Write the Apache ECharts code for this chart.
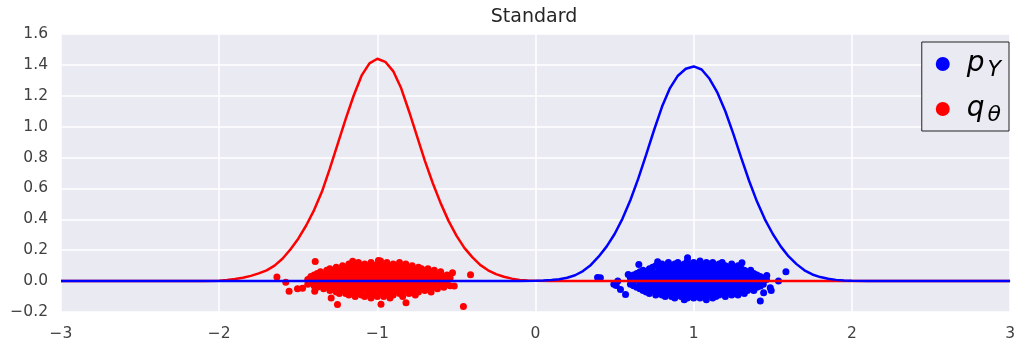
<!DOCTYPE html>
<html><head><meta charset="utf-8">
<script src="https://cdn.jsdelivr.net/npm/echarts@6/dist/echarts.min.js"></script>
<style>html,body{margin:0;padding:0;background:#fff}#c{width:1018px;height:345px}</style>
</head><body><div id="c"></div>
<script>
const titleText = 'Standard';
const legendNames = ['p_Y', 'q_θ'];
const xTicks = [-3, -2, -1, 0, 1, 2, 3];
const yTicks = [-0.2, 0, 0.2, 0.4, 0.6, 0.8, 1.0, 1.2, 1.4, 1.6];

// density curve of q_theta (red)
const redCurveX = [-3, -2.5, -2.1, -2.0, -1.95, -1.9, -1.85, -1.8, -1.75, -1.7, -1.65, -1.6, -1.55, -1.5, -1.45, -1.4, -1.35, -1.3, -1.25, -1.2, -1.15, -1.1, -1.05, -1.0, -0.95, -0.9, -0.85, -0.8, -0.75, -0.7, -0.65, -0.6, -0.55, -0.5, -0.45, -0.4, -0.35, -0.3, -0.25, -0.2, -0.15, -0.1, -0.05, 0, 0.1, 0.5, 1, 1.5, 2, 2.5, 3];
const redCurveY = [0, 0, 0.001, 0.003, 0.007, 0.013, 0.022, 0.034, 0.05, 0.07, 0.10, 0.145, 0.205, 0.275, 0.36, 0.46, 0.58, 0.73, 0.89, 1.05, 1.20, 1.33, 1.41, 1.44, 1.42, 1.36, 1.25, 1.10, 0.94, 0.78, 0.635, 0.505, 0.39, 0.295, 0.215, 0.155, 0.105, 0.07, 0.045, 0.028, 0.016, 0.008, 0.004, 0.002, 0, 0, 0, 0, 0, 0, 0];

// density curve of p_Y (blue)
const blueCurveX = [-3, -2.5, -2, -1.5, -1, -0.5, -0.1, 0, 0.05, 0.1, 0.15, 0.2, 0.25, 0.3, 0.35, 0.4, 0.45, 0.5, 0.55, 0.6, 0.65, 0.7, 0.75, 0.8, 0.85, 0.9, 0.95, 1.0, 1.05, 1.1, 1.15, 1.2, 1.25, 1.3, 1.35, 1.4, 1.45, 1.5, 1.55, 1.6, 1.65, 1.7, 1.75, 1.8, 1.85, 1.9, 1.95, 2.0, 2.1, 2.5, 3];
const blueCurveY = [0, 0, 0, 0, 0, 0, 0, 0.002, 0.004, 0.007, 0.012, 0.022, 0.038, 0.065, 0.105, 0.16, 0.225, 0.305, 0.405, 0.525, 0.665, 0.82, 0.98, 1.13, 1.25, 1.33, 1.375, 1.39, 1.37, 1.31, 1.22, 1.10, 0.955, 0.80, 0.65, 0.515, 0.40, 0.305, 0.225, 0.16, 0.11, 0.07, 0.043, 0.026, 0.015, 0.008, 0.004, 0.002, 0.001, 0, 0];

// samples of q_theta: columns [x, [y values]]
const redCols = [
 [-1.44,[0.01,-0.02]], [-1.42,[0.03,-0.01,0.00]], [-1.40,[0.04,0.01,-0.03]], [-1.38,[0.05,0.02,-0.01,-0.04]],
 [-1.36,[0.06,0.03,0.00,-0.03]], [-1.34,[0.04,0.01,-0.02,-0.05]], [-1.32,[0.07,0.05,0.02,-0.01,-0.04]],
 [-1.30,[0.08,0.04,0.00,-0.03,-0.06]], [-1.28,[0.06,0.03,-0.02,-0.05]], [-1.26,[0.09,0.05,0.01,-0.03,-0.07]],
 [-1.24,[0.07,0.03,-0.01,-0.05,-0.08]], [-1.22,[0.10,0.06,0.02,-0.02,-0.06]], [-1.20,[0.08,0.04,0.00,-0.04,-0.08]],
 [-1.18,[0.11,0.07,0.03,-0.01,-0.05,-0.09]], [-1.16,[0.09,0.05,0.01,-0.03,-0.07]], [-1.14,[0.10,0.06,0.02,-0.02,-0.06,-0.10]],
 [-1.12,[0.12,0.08,0.04,0.00,-0.04,-0.08]], [-1.10,[0.10,0.06,0.02,-0.02,-0.06,-0.09]], [-1.08,[0.11,0.07,0.03,-0.01,-0.05,-0.10]],
 [-1.06,[0.09,0.05,0.01,-0.03,-0.07]], [-1.04,[0.12,0.08,0.04,0.00,-0.04,-0.08,-0.11]], [-1.02,[0.10,0.06,0.02,-0.02,-0.06,-0.09]],
 [-1.00,[0.11,0.07,0.03,-0.01,-0.05,-0.10]], [-0.98,[0.13,0.09,0.05,0.01,-0.03,-0.07]], [-0.96,[0.10,0.06,0.02,-0.02,-0.06,-0.10]],
 [-0.94,[0.12,0.08,0.04,0.00,-0.04,-0.08]], [-0.92,[0.09,0.05,0.01,-0.03,-0.07,-0.11]], [-0.90,[0.11,0.07,0.03,-0.01,-0.05,-0.09]],
 [-0.88,[0.10,0.06,0.02,-0.02,-0.06]], [-0.86,[0.12,0.08,0.04,0.00,-0.04,-0.08]], [-0.84,[0.09,0.05,0.01,-0.03,-0.07,-0.10]],
 [-0.82,[0.11,0.07,0.03,-0.01,-0.05]], [-0.80,[0.08,0.04,0.00,-0.04,-0.08]], [-0.78,[0.10,0.06,0.02,-0.02,-0.06]],
 [-0.76,[0.07,0.03,-0.01,-0.05,-0.09]], [-0.74,[0.09,0.05,0.01,-0.03,-0.07]], [-0.72,[0.08,0.04,0.00,-0.04]],
 [-0.70,[0.06,0.02,-0.02,-0.06]], [-0.68,[0.08,0.04,0.00,-0.05]], [-0.66,[0.05,0.01,-0.03,-0.07]],
 [-0.64,[0.07,0.03,-0.01,-0.04]], [-0.62,[0.04,0.00,-0.05]], [-0.60,[0.06,0.02,-0.02]],
 [-0.58,[0.03,-0.01,-0.04]], [-0.56,[0.04,0.01,-0.02]], [-0.54,[0.02,-0.03]]
];
const redOutliers = [[-1.635,0.027],[-1.579,-0.007],[-1.558,-0.066],[-1.505,-0.05],[-1.473,-0.046],[-1.396,-0.065],
 [-1.393,0.127],[-1.292,-0.11],[-1.252,-0.152],[-1.156,0.129],[-0.993,0.134],[-0.977,-0.15],[-0.819,-0.14],
 [-0.525,0.054],[-0.514,-0.032],[-0.411,0.041],[-0.456,-0.165]];

// samples of p_Y: columns [x, [y values]]
const blueCols = [
 [0.60,[0.02,-0.02]], [0.62,[0.04,0.00,-0.03]], [0.64,[0.05,0.01,-0.04]], [0.66,[0.06,0.02,-0.02,-0.05]],
 [0.68,[0.07,0.03,-0.01,-0.06]], [0.70,[0.05,0.01,-0.03,-0.07]], [0.72,[0.08,0.04,0.00,-0.04,-0.08]],
 [0.74,[0.09,0.06,0.02,-0.02,-0.06]], [0.76,[0.10,0.05,0.01,-0.03,-0.07,-0.09]], [0.78,[0.08,0.04,0.00,-0.04,-0.08]],
 [0.80,[0.11,0.07,0.03,-0.01,-0.05,-0.09]], [0.82,[0.09,0.05,0.01,-0.03,-0.07,-0.10]], [0.84,[0.12,0.08,0.04,0.00,-0.04,-0.08]],
 [0.86,[0.10,0.06,0.02,-0.02,-0.06,-0.10]], [0.88,[0.11,0.07,0.03,-0.01,-0.05,-0.09,-0.11]], [0.90,[0.12,0.08,0.04,0.00,-0.04,-0.08]],
 [0.92,[0.10,0.06,0.02,-0.02,-0.06,-0.10]], [0.94,[0.11,0.07,0.03,-0.01,-0.05,-0.09,-0.12]], [0.96,[0.13,0.09,0.05,0.01,-0.03,-0.07,-0.11]],
 [0.98,[0.10,0.06,0.02,-0.02,-0.06,-0.10]], [1.00,[0.12,0.08,0.04,0.00,-0.04,-0.08,-0.11]], [1.02,[0.11,0.07,0.03,-0.01,-0.05,-0.09]],
 [1.04,[0.13,0.09,0.05,0.01,-0.03,-0.07,-0.11]], [1.06,[0.10,0.06,0.02,-0.02,-0.06,-0.10]], [1.08,[0.12,0.08,0.04,0.00,-0.04,-0.08,-0.12]],
 [1.10,[0.11,0.07,0.03,-0.01,-0.05,-0.09]], [1.12,[0.12,0.09,0.05,0.01,-0.03,-0.07,-0.11]], [1.14,[0.10,0.06,0.02,-0.02,-0.06,-0.10]],
 [1.16,[0.11,0.07,0.03,-0.01,-0.05,-0.09]], [1.18,[0.12,0.08,0.04,0.00,-0.04,-0.08]], [1.20,[0.10,0.06,0.02,-0.02,-0.06,-0.10]],
 [1.22,[0.09,0.05,0.01,-0.03,-0.07]], [1.24,[0.11,0.07,0.03,-0.01,-0.05,-0.09]], [1.26,[0.08,0.04,0.00,-0.04,-0.08]],
 [1.28,[0.10,0.06,0.02,-0.02,-0.06,-0.09]], [1.30,[0.08,0.04,0.00,-0.04,-0.07]], [1.32,[0.07,0.03,-0.01,-0.05,-0.08]],
 [1.34,[0.06,0.02,-0.02,-0.06]], [1.36,[0.07,0.03,-0.01,-0.05]], [1.38,[0.05,0.01,-0.03,-0.06]],
 [1.40,[0.04,0.00,-0.04]], [1.42,[0.03,-0.01,-0.03]], [1.44,[0.02,-0.02]], [1.46,[0.01]]
];
const blueOutliers = [[0.392,0.024],[0.41,0.022],[0.495,-0.021],[0.52,0.0],[0.51,-0.028],[0.537,-0.054],[0.569,-0.086],
 [0.586,0.043],[0.653,0.108],[0.772,0.126],[0.961,0.151],[1.305,0.119],[1.421,-0.032],[1.442,-0.075],[1.421,-0.129],
 [1.462,0.036],[1.484,-0.043],[1.49,-0.06],[1.536,0.0],[1.583,0.06]];

function flat(cols, extra) {
  const out = [];
  cols.forEach(c => c[1].forEach(y => out.push([c[0], y])));
  return out.concat(extra);
}
function zip(xs, ys) { return xs.map((x, i) => [x, ys[i]]); }
function fmt(v, d) { const s = Math.abs(v).toFixed(d); return (v < -1e-9 ? '\u2212' : '') + s; }

const FONT = 'DejaVu Sans';
const chart = echarts.init(document.getElementById('c'), null, {renderer: 'canvas'});
chart.setOption({
  animation: false,
  backgroundColor: '#ffffff',
  title: {
    text: titleText, left: 529, top: 3, textAlign: 'center',
    textStyle: {fontFamily: FONT, fontSize: 19, fontWeight: 'normal', color: '#262626'}
  },
  grid: {left: 61, right: 6, top: 34, bottom: 33, show: true, backgroundColor: '#EAEAF2', borderWidth: 0},
  legend: {
    orient: 'vertical', right: 9, top: 42,
    data: [{name: legendNames[0], icon: 'circle'}, {name: legendNames[1], icon: 'circle'}],
    itemWidth: 14, itemHeight: 14, itemGap: 14,
    backgroundColor: '#EAEAF2', borderColor: '#222', borderWidth: 1, borderRadius: 0,
    padding: [8, 5, 5, 14],
    selectedMode: false,
    formatter: n => n === legendNames[0] ? '{m|p}{s|Y}' : '{m|q}{s|θ}',
    textStyle: {
      rich: {
        m: {fontFamily: FONT, fontStyle: 'italic', fontSize: 28, color: '#000', lineHeight: 34, padding: [0, 0, 0, 12]},
        s: {fontFamily: FONT, fontStyle: 'italic', fontSize: 22, color: '#000', lineHeight: 12, verticalAlign: 'bottom', padding: [0, 3, 0, 3]}
      }
    }
  },
  xAxis: {
    type: 'value', min: -3, max: 3, interval: 1,
    axisLine: {show: false}, axisTick: {show: false},
    axisLabel: {fontFamily: FONT, fontSize: 15.5, color: '#404040', margin: 14, formatter: v => fmt(v, 0)},
    splitLine: {show: true, lineStyle: {color: '#ffffff', width: 1.5}}
  },
  yAxis: {
    type: 'value', min: -0.2, max: 1.6, interval: 0.2,
    axisLine: {show: false}, axisTick: {show: false},
    axisLabel: {fontFamily: FONT, fontSize: 15.5, color: '#404040', margin: 13, formatter: v => fmt(v, 1)},
    splitLine: {show: true, lineStyle: {color: '#ffffff', width: 1.5}}
  },
  series: [
    {name: legendNames[0], type: 'scatter', data: flat(blueCols, blueOutliers), symbolSize: 7,
     itemStyle: {color: '#0000ff', opacity: 1}},
    {name: legendNames[1], type: 'scatter', data: flat(redCols, redOutliers), symbolSize: 7,
     itemStyle: {color: '#ff0000', opacity: 1}},
    {name: 'q_curve', type: 'line', data: zip(redCurveX, redCurveY), showSymbol: false, symbol: 'none',
     lineStyle: {color: '#ff0000', width: 2.5}, itemStyle: {color: '#ff0000'}},
    {name: 'p_curve', type: 'line', data: zip(blueCurveX, blueCurveY), showSymbol: false, symbol: 'none',
     lineStyle: {color: '#0000ff', width: 2.5}, itemStyle: {color: '#0000ff'}}
  ]
});
</script></body></html>
